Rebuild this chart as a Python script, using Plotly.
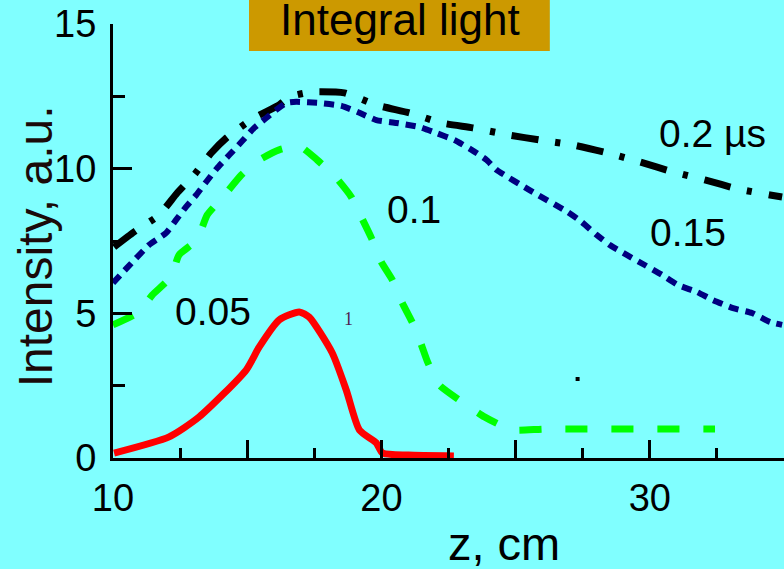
import plotly.graph_objects as go

# ---- data ----
z_005 = [10.04, 12.09, 13.21, 14.96, 15.45, 16.19, 16.94, 17.31, 18.17, 18.69, 19.18, 19.81, 20.04, 21.0, 22.7]
i_005 = [0.17, 0.73, 1.42, 3.04, 3.84, 4.77, 5.05, 4.87, 3.63, 2.35, 0.97, 0.52, 0.17, 0.1, 0.07]

z_01 = [10.0, 10.97, 11.46, 12.16, 12.46, 13.13, 13.51, 14.07, 14.78, 15.45, 16.19, 16.94, 17.61, 18.32,
        18.88, 19.25, 19.63, 20.0, 20.41, 20.78, 21.16, 21.49, 21.72, 22.16, 22.91, 23.84, 24.85, 26.08, 32.43]
i_01 = [4.60, 5.05, 5.63, 6.26, 7.02, 7.54, 8.40, 8.99, 9.78, 10.30, 10.65, 10.78, 10.30, 9.68,
        9.02, 8.33, 7.60, 6.77, 6.15, 5.36, 4.67, 3.91, 3.32, 2.52, 2.00, 1.42, 0.97, 1.0, 1.0]

z_015 = [10.0, 10.52, 11.34, 11.98, 12.35, 12.72, 13.10, 13.47, 13.88, 14.33, 14.78, 15.26, 15.71, 16.08,
         16.46, 16.83, 17.69, 18.51, 19.18, 19.81, 20.56, 21.42, 22.05, 22.72, 23.36, 23.92, 24.29, 25.52,
         26.94, 27.46, 28.02, 28.51, 29.14, 29.81, 30.45, 31.04, 31.75, 32.35, 33.10, 33.81, 34.48, 34.93]
i_015 = [6.05, 6.57, 7.36, 7.78, 8.23, 8.68, 9.09, 9.54, 10.02, 10.47, 10.92, 11.41, 11.75, 12.03,
         12.27, 12.31, 12.27, 12.17, 11.93, 11.68, 11.58, 11.44, 11.23, 10.99, 10.65, 10.30, 9.96, 9.26,
         8.50, 8.16, 7.71, 7.36, 7.02, 6.67, 6.33, 5.98, 5.74, 5.46, 5.18, 5.01, 4.70, 4.60]

z_02 = [10.04, 10.78, 11.72, 12.39, 13.02, 13.66, 14.22, 15.19, 16.19, 16.57, 17.39, 18.62, 19.81, 21.04,
        22.24, 23.40, 24.78, 25.90, 27.13, 28.43, 29.63, 30.86, 32.05, 33.28, 34.48, 34.93]
i_02 = [7.29, 7.81, 8.40, 9.16, 9.78, 10.54, 11.06, 11.72, 12.20, 12.48, 12.65, 12.62, 12.20, 11.93,
        11.58, 11.41, 11.16, 10.99, 10.82, 10.54, 10.23, 9.89, 9.61, 9.30, 9.09, 9.02]

stray_z = [27.31]
stray_i = [2.73]

x_tickvals = [10, 15, 20, 25, 30, 35]
x_ticktext = ["10", "", "20", "", "30", ""]
x_minor = [12.5, 17.5, 22.5, 27.5, 32.5]
y_tickvals = [0, 5, 10, 15]
y_ticktext = ["0", "5", "10", "15"]
y_minor = [2.5, 7.5, 12.5]

labels = ["0.2 \u00b5s", "0.15", "0.1", "0.05"]

BG = "#80FFFF"
FONT = "Liberation Sans, Arial, sans-serif"

fig = go.Figure()
fig.add_trace(go.Scatter(x=z_02, y=i_02, mode="lines",
                         line=dict(color="#000000", width=7, dash="27px,17px,5px,17px",
                                   shape="spline", smoothing=0.5)))
fig.add_trace(go.Scatter(x=z_015, y=i_015, mode="lines",
                         line=dict(color="#000080", width=6, dash="10px,7px",
                                   shape="spline", smoothing=0.5)))
fig.add_trace(go.Scatter(x=z_01, y=i_01, mode="lines",
                         line=dict(color="#00FF00", width=7, dash="22px,24px",
                                   shape="spline", smoothing=0.5)))
fig.add_trace(go.Scatter(x=z_005, y=i_005, mode="lines",
                         line=dict(color="#FF0000", width=7, shape="spline", smoothing=0.6)))
fig.add_trace(go.Scatter(x=stray_z, y=stray_i, mode="markers",
                         marker=dict(color="#000000", size=4, symbol="square")))

tickfont = dict(family=FONT, size=38, color="#000000")

fig.update_layout(
    width=784, height=569,
    margin=dict(l=113, r=0, t=24, b=111),
    paper_bgcolor=BG, plot_bgcolor=BG,
    showlegend=False,
    xaxis=dict(range=[10, 35], showgrid=False, zeroline=False,
               showline=True, linecolor="#000000", linewidth=3,
               tickmode="array", tickvals=x_tickvals, ticktext=x_ticktext,
               ticks="inside", ticklen=18, tickwidth=3, tickcolor="#000000",
               tickfont=tickfont, ticklabelstandoff=4,
               minor=dict(tickvals=x_minor, ticks="inside", ticklen=10,
                          tickwidth=3, tickcolor="#000000", showgrid=False)),
    yaxis=dict(range=[0, 15], showgrid=False, zeroline=False,
               showline=True, linecolor="#000000", linewidth=3,
               tickmode="array", tickvals=y_tickvals, ticktext=y_ticktext,
               ticks="inside", ticklen=19, tickwidth=3, tickcolor="#000000",
               tickfont=tickfont, ticklabelstandoff=6,
               minor=dict(tickvals=y_minor, ticks="inside", ticklen=12,
                          tickwidth=3, tickcolor="#000000", showgrid=False)),
)

# title box
fig.add_shape(type="rect", xref="paper", yref="paper",
              x0=0.2027, x1=0.651, y0=0.9378, y1=1.08,
              fillcolor="#CC9900", line=dict(width=0), layer="above")

ann = []
ann.append(dict(text="Integral light", xref="paper", yref="paper", x=0.4277, y=1.011,
                xanchor="center", yanchor="middle", showarrow=False,
                font=dict(family=FONT, size=44, color="#000000")))
ann.append(dict(text="z, cm", xref="paper", yref="paper", x=0.583, y=-0.198,
                xanchor="center", yanchor="middle", showarrow=False,
                font=dict(family=FONT, size=47, color="#000000")))
ann.append(dict(text="Intensity, a.u.", xref="paper", yref="paper", x=-0.116, y=0.488,
                xanchor="center", yanchor="middle", textangle=-90, showarrow=False,
                font=dict(family=FONT, size=48, color="#1a0a0a")))
lab_pos = [(30.27, 11.2), (29.93, 7.78), (20.13, 8.6), (12.24, 5.08)]
for t, (xx, yy) in zip(labels, lab_pos):
    ann.append(dict(text=t, x=xx, y=yy, xref="x", yref="y", xanchor="left", yanchor="middle",
                    showarrow=False, font=dict(family=FONT, size=39, color="#000000")))
ann.append(dict(text="1", x=18.79, y=4.8, xref="x", yref="y", xanchor="center", yanchor="middle",
                showarrow=False, font=dict(family="Liberation Serif, Times New Roman, serif",
                                           size=18, color="#502050")))
fig.update_layout(annotations=ann)

fig.write_html("out.html")
